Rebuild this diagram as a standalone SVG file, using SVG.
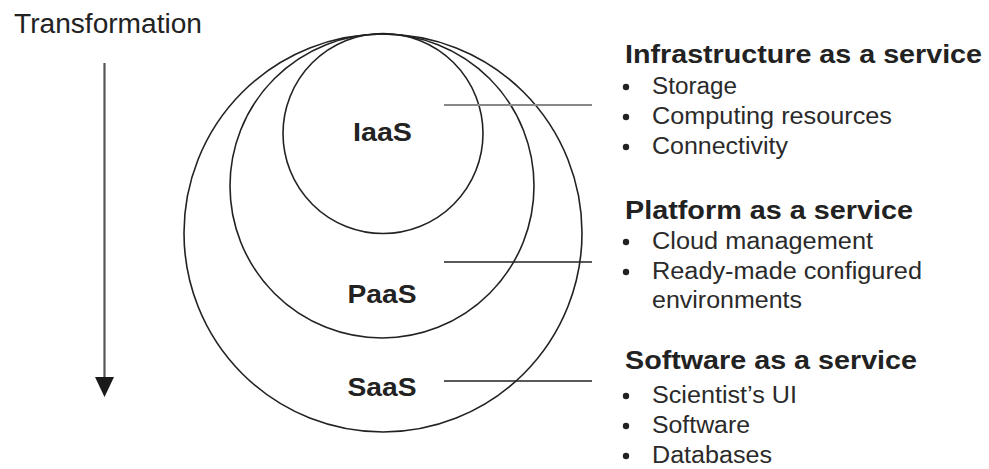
<svg xmlns="http://www.w3.org/2000/svg" width="989" height="469" viewBox="0 0 989 469">
<style>
.c{fill:none;stroke:#222;stroke-width:1.6}
.t{font-family:"Liberation Sans",Arial,sans-serif;fill:#222}
.h{font-family:"Liberation Sans",Arial,sans-serif;font-weight:bold;fill:#222;font-size:26px}
.i{font-family:"Liberation Sans",Arial,sans-serif;fill:#2a2a2a;font-size:23px}
.lab{font-family:"Liberation Sans",Arial,sans-serif;font-weight:bold;fill:#222;font-size:26px;text-anchor:middle}
.ln{stroke:#222;stroke-width:1.6}
.b{fill:#222}
</style>
<rect width="989" height="469" fill="#fff"/>
<g id="transformation">
<text class="t" x="14" y="33" font-size="27" textLength="188" lengthAdjust="spacingAndGlyphs">Transformation</text>
<line x1="104.5" y1="63" x2="104.5" y2="380" stroke="#555" stroke-width="2.2"/>
<polygon points="95,377 114,377 104.5,397" fill="#1a1a1a"/>
</g>
<g id="saas">
<circle class="c" cx="383" cy="233" r="199"/>
<text class="lab" x="382" y="396" textLength="69" lengthAdjust="spacingAndGlyphs">SaaS</text>
</g>
<g id="paas">
<circle class="c" cx="382" cy="186" r="152"/>
<text class="lab" x="382" y="303" textLength="69" lengthAdjust="spacingAndGlyphs">PaaS</text>
</g>
<g id="iaas">
<circle class="c" cx="383" cy="133.5" r="100"/>
<text class="lab" x="382.5" y="141" textLength="59" lengthAdjust="spacingAndGlyphs">IaaS</text>
</g>
<g id="connectors">
<line x1="444" y1="105" x2="592" y2="105" stroke="#888" stroke-width="2.2"/>
<line class="ln" x1="444" y1="262" x2="592" y2="262"/>
<line class="ln" x1="444" y1="381" x2="592" y2="381"/>
</g>
<g id="infra-text">
<text class="h" x="625" y="63" textLength="357" lengthAdjust="spacingAndGlyphs">Infrastructure as a service</text>
<circle class="b" cx="626" cy="87" r="3.2"/>
<text class="i" x="652" y="94" textLength="85" lengthAdjust="spacingAndGlyphs">Storage</text>
<circle class="b" cx="626" cy="117" r="3.2"/>
<text class="i" x="652" y="124" textLength="240" lengthAdjust="spacingAndGlyphs">Computing resources</text>
<circle class="b" cx="626" cy="147" r="3.2"/>
<text class="i" x="652" y="154" textLength="136" lengthAdjust="spacingAndGlyphs">Connectivity</text>
</g>
<g id="platform-text">
<text class="h" x="625" y="219" textLength="288" lengthAdjust="spacingAndGlyphs">Platform as a service</text>
<circle class="b" cx="626" cy="242" r="3.2"/>
<text class="i" x="652" y="249" textLength="221" lengthAdjust="spacingAndGlyphs">Cloud management</text>
<circle class="b" cx="626" cy="272" r="3.2"/>
<text class="i" x="652" y="279" textLength="270" lengthAdjust="spacingAndGlyphs">Ready-made configured</text>
<text class="i" x="652" y="308" textLength="150" lengthAdjust="spacingAndGlyphs">environments</text>
</g>
<g id="software-text">
<text class="h" x="625" y="369" textLength="292" lengthAdjust="spacingAndGlyphs">Software as a service</text>
<circle class="b" cx="626" cy="396" r="3.2"/>
<text class="i" x="652" y="403" textLength="145" lengthAdjust="spacingAndGlyphs">Scientist’s UI</text>
<circle class="b" cx="626" cy="426" r="3.2"/>
<text class="i" x="652" y="433" textLength="98" lengthAdjust="spacingAndGlyphs">Software</text>
<circle class="b" cx="626" cy="456" r="3.2"/>
<text class="i" x="652" y="463" textLength="120" lengthAdjust="spacingAndGlyphs">Databases</text>
</g>
</svg>
